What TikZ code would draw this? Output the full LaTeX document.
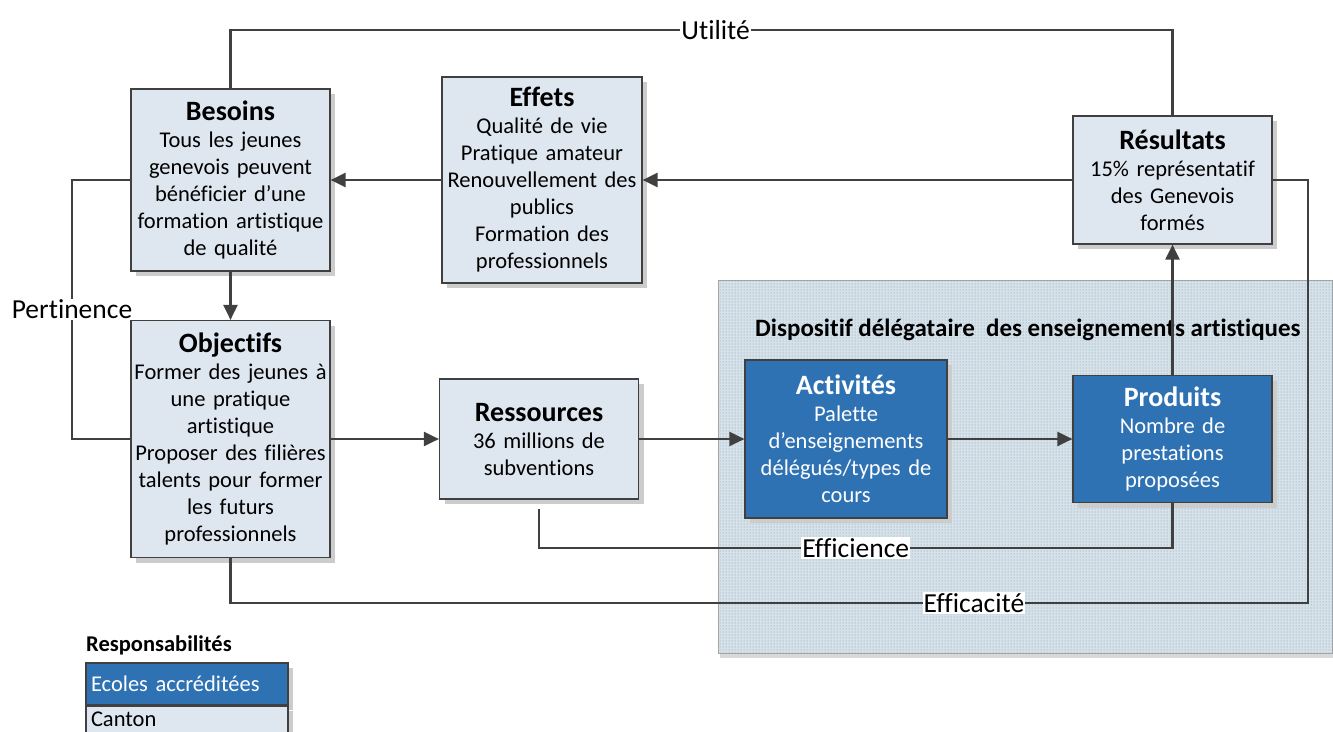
\documentclass[tikz,border=0pt]{standalone}
\usepackage{fontspec}
\setmainfont{Carlito}[Ligatures=CommonOff]
\usetikzlibrary{positioning, arrows.meta, shadows, patterns, calc}
\definecolor{edge}{HTML}{404040}
\definecolor{paleblue}{HTML}{DEE7F0}
\definecolor{deepblue}{HTML}{2E72B4}
\definecolor{zonefill}{HTML}{D6E2EA}
\definecolor{zonedot}{HTML}{7890A2}

\newcommand{\boxtitle}[1]{{\fontsize{28}{32}\selectfont\bfseries #1\par}}

\tikzset{
  box/.style={rectangle, draw=edge, line width=1.2pt, fill=paleblue, align=center,
    text width=197pt, inner sep=1pt, font=\fontsize{22.5}{27}\selectfont,
    drop shadow={shadow xshift=5pt, shadow yshift=-5pt, fill=black!20, opacity=1}},
  darkbox/.style={box, fill=deepblue, text=white},
  link/.style={draw=edge, line width=2.2pt},
  arrow/.style={link, -{Triangle[length=15pt, width=14pt]}},
  lbl/.style={fill=white, inner sep=1pt, font=\fontsize{27.5}{30}\selectfont},
  zone/.style={rectangle, draw=black!35, line width=0.8pt, fill=zonefill,
    drop shadow={shadow xshift=2pt, shadow yshift=-5pt, fill=black!15, opacity=1}},
  legendbox/.style={rectangle, draw=edge, line width=1.2pt, fill=paleblue, align=left,
    text width=192pt, minimum height=42pt, inner sep=4pt, font=\fontsize{22.5}{26}\selectfont,
    drop shadow={shadow xshift=5pt, shadow yshift=-5pt, fill=black!20, opacity=1}}
}

\begin{document}
\begin{tikzpicture}[x=1pt, y=-1pt]
  \useasboundingbox[fill=white] (0,0) rectangle (1333,731);

  % delegated area
  \node[zone, minimum width=614pt, minimum height=373pt] (dispositif) at (1025,466.5) {};
  \fill[pattern=dots, pattern color=zonedot] (dispositif.south west) rectangle (dispositif.north east);
  \node[anchor=west, inner sep=0pt, font=\fontsize{25}{28}\selectfont\bfseries] (dispotitle) at (755,330) {Dispositif délégataire \ des enseignements artistiques};

  % boxes
  \node[box, minimum width=199pt, minimum height=182pt] (besoins) at (230.5,180)
    {\boxtitle{Besoins}Tous les jeunes\\genevois peuvent\\bénéficier d’une\\formation artistique\\de qualité};
  \node[box, minimum width=200pt, minimum height=206pt] (effets) at (542,180)
    {\boxtitle{Effets}Qualité de vie\\Pratique amateur\\Renouvellement des\\publics\\Formation des\\professionnels};
  \node[box, minimum width=199pt, minimum height=128pt] (resultats) at (1172.5,180)
    {\boxtitle{Résultats}15\% représentatif\\des Genevois\\formés};
  \node[box, minimum width=199pt, minimum height=237pt] (objectifs) at (230.5,439)
    {\boxtitle{Objectifs}Former des jeunes à\\une pratique\\artistique\\Proposer des filières\\talents pour former\\les futurs\\professionnels};
  \node[box, minimum width=198pt, minimum height=120pt] (ressources) at (539,439)
    {\boxtitle{Ressources}36 millions de\\subventions};
  \node[darkbox, minimum width=202pt, minimum height=158pt] (activites) at (846,439)
    {\boxtitle{Activités}Palette\\d’enseignements\\délégués/types de\\cours};
  \node[darkbox, minimum width=199pt, minimum height=127pt] (produits) at (1172.5,439)
    {\boxtitle{Produits}Nombre de\\prestations\\proposées};

  % main flow
  \draw[arrow] (besoins.south) -- (objectifs.north);
  \draw[arrow] (effets.west) -- (besoins.east);
  \draw[arrow] (resultats.west) -- (effets.east);
  \draw[arrow] (objectifs.east) -- (ressources.west);
  \draw[arrow] (ressources.east) -- (activites.west);
  \draw[arrow] (activites.east) -- (produits.west);
  \draw[arrow] (produits.north) -- (resultats.south);

  % evaluation loops
  \coordinate (util) at (0,30);
  \draw[link] (besoins.north) -- (besoins.north |- util)
    -- node[lbl, pos=0.515] {Utilité} (resultats.north |- util) -- (resultats.north);
  \coordinate (pert) at (72,0);
  \draw[link] (besoins.west) -- (pert |- besoins.west)
    -- node[lbl] {Pertinence} (pert |- objectifs.west) -- (objectifs.west);
  \coordinate (effi) at ([yshift=-9pt]ressources.south);
  \draw[link] (effi) -- (effi |- 0,548)
    -- node[lbl] {Efficience} (produits.south |- 0,548) -- (produits.south);
  \coordinate (effc) at (1308,603);
  \draw[link] (objectifs.south) -- (objectifs.south |- effc)
    -- node[lbl, pos=0.69] {Efficacité} (effc) -- (effc |- resultats.east) -- (resultats.east);

  % legend
  \node[anchor=west, inner sep=0pt, font=\fontsize{22.5}{26}\selectfont\bfseries] (legtitle) at (86,645) {Responsabilités};
  \node[legendbox, fill=deepblue, text=white, minimum width=202pt] (ecoles) at (187,684) {Ecoles accréditées};
  \node[legendbox, minimum width=202pt, minimum height=27pt, inner ysep=1pt, below=0pt of ecoles] (canton) {Canton};
\end{tikzpicture}
\end{document}
